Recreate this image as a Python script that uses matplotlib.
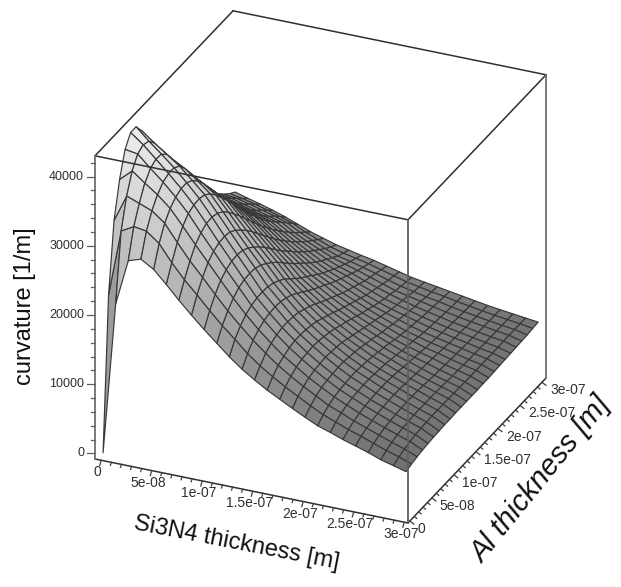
import numpy as np
import matplotlib
matplotlib.use("Agg")
import matplotlib.pyplot as plt
from matplotlib.colors import LinearSegmentedColormap
from matplotlib.lines import Line2D
from mpl_toolkits.mplot3d import proj3d

plt.rcParams['font.family'] = ['Liberation Sans', 'DejaVu Sans']

# grid values
si3n4_nm = [0, 12.5, 25, 37.5, 50, 62.5, 75, 87.5, 100, 112.5, 125, 137.5, 150, 162.5, 175,
            187.5, 200, 212.5, 225, 237.5, 250, 262.5, 275, 287.5, 300]
al_nm = list(si3n4_nm)
curvature = [
 [0,22000,31900,37000,40500,42100,42100,40700,38900,36900,35200,33500,31650,29900,28300,26900,25600,24200,23000,21800,20800,19900,19000,18250,17630],
 [21900,31600,35800,38600,40200,40700,40400,39300,37700,36000,34300,32700,31000,29400,27800,26400,25100,23800,22600,21500,20500,19600,18750,17900,17100],
 [28500,32600,35100,37200,38500,39000,38900,38000,36500,34900,33300,31700,30100,28600,27100,25700,24500,23300,22100,21000,20000,19100,18300,17450,16630],
 [29100,32300,34400,35900,36900,37300,37300,36700,35500,34000,32400,30900,29400,27900,26500,25100,23900,22700,21500,20500,19500,18600,17800,16950,16100],
 [28000,30900,33000,34300,35100,35500,35500,35000,34100,32900,31500,30100,28600,27200,25800,24500,23300,22100,21000,20000,19000,18100,17300,16400,15500],
 [26200,28500,30600,32100,33100,33500,33600,33300,32600,31600,30400,29200,27800,26400,25100,23800,22700,21500,20400,19400,18500,17600,16700,15800,14800],
 [24300,26400,28300,29800,30700,31200,31300,31000,30400,29500,28400,27300,26100,24900,23700,22500,21400,20300,19300,18300,17400,16500,15700,14900,14100],
 [22500,24600,26300,27600,28400,28800,28900,28700,28100,27300,26400,25400,24300,23200,22100,21000,20000,19000,18100,17200,16400,15600,14900,14200,13550],
 [20800,22700,24200,25400,26100,26500,26600,26400,25900,25200,24400,23500,22500,21500,20500,19600,18700,17800,17000,16200,15500,14800,14100,13500,13000],
 [19200,20900,22200,23200,23900,24200,24300,24200,23800,23200,22500,21700,20800,19900,19000,18200,17400,16600,15900,15200,14600,14000,13400,13000,12600],
 [17600,19300,20400,21200,21700,21950,22000,21900,21600,21100,20500,19700,18900,18150,17500,16800,16150,15500,14950,14400,13900,13450,13000,12600,12200],
 [16200,17600,18700,19400,19900,20100,20200,20100,19800,19400,18800,18200,17500,16900,16300,15800,15200,14700,14200,13800,13300,12900,12500,12200,11850],
 [15000,16200,17200,17800,18200,18400,18400,18300,18100,17700,17300,16800,16200,15700,15200,14700,14200,13800,13400,13000,12600,12300,12000,11700,11400],
 [13900,15000,15800,16300,16700,16900,16900,16800,16600,16300,15900,15500,15100,14600,14200,13800,13400,13000,12600,12300,12000,11700,11400,11200,10950],
 [12950,13900,14600,15100,15400,15500,15600,15500,15300,15100,14800,14400,14100,13700,13300,12900,12600,12200,11900,11600,11400,11100,10900,10700,10500],
 [12000,12900,13500,13900,14200,14300,14400,14300,14200,14000,13700,13400,13100,12800,12500,12200,11900,11600,11300,11100,10900,10700,10500,10350,10200],
 [11100,11900,12500,12900,13100,13200,13300,13300,13100,13000,12800,12500,12300,12000,11700,11500,11200,11000,10800,10600,10400,10300,10100,10000,9900],
 [10250,11000,11500,11900,12100,12200,12300,12300,12200,12100,11900,11700,11500,11300,11000,10800,10600,10400,10300,10100,10000,9900,9800,9700,9600],
 [9650,10300,10800,11100,11300,11400,11500,11500,11400,11300,11200,11000,10800,10600,10400,10300,10100,9900,9800,9700,9600,9500,9400,9350,9300],
 [9000,9600,10000,10300,10500,10600,10700,10700,10700,10600,10500,10300,10200,10000,9900,9700,9600,9500,9400,9300,9200,9150,9100,9050,9000],
 [8440,9000,9350,9600,9800,9900,10000,10000,10000,9900,9800,9700,9600,9500,9400,9300,9200,9100,9000,8950,8900,8850,8800,8750,8700],
 [7870,8350,8700,8950,9100,9200,9300,9300,9300,9300,9200,9100,9000,8950,8850,8800,8750,8700,8650,8600,8550,8550,8500,8480,8450],
 [7200,7700,8050,8300,8450,8550,8650,8650,8650,8650,8600,8550,8500,8450,8400,8350,8300,8300,8250,8250,8250,8250,8230,8230,8230],
 [6720,7150,7450,7700,7850,7950,8000,8050,8050,8050,8050,8000,8000,7950,7950,7950,7950,7950,7950,7950,8000,8000,8000,8000,8000],
 [6230,6500,6700,6850,6950,7050,7100,7150,7150,7200,7200,7200,7200,7200,7250,7250,7300,7350,7400,7450,7500,7550,7600,7700,7780],
]
h_ticks = [0, 5e-8, 1e-7, 1.5e-7, 2e-7, 2.5e-7, 3e-7]
h_labels = ['0', '5e-08', '1e-07', '1.5e-07', '2e-07', '2.5e-07', '3e-07']
z_ticks = [0, 10000, 20000, 30000, 40000]

XLIM = (-6.2e-9, 3.037e-7)
YLIM = (-4.1e-9, 3.094e-7)
ZLIM = (-800, 43000)
W, H = 621, 587

fig = plt.figure(figsize=(W / 100, H / 100), dpi=100, facecolor='white')
ax = fig.add_axes([0, 0, 1, 1], projection='3d', proj_type='ortho', computed_zorder=False)
ax.set_xlim(*XLIM); ax.set_ylim(*YLIM); ax.set_zlim(*ZLIM)
ax.set_box_aspect((1, 1, 1))
ax.view_init(elev=27.6, azim=-66.2)
ax.set_axis_off()
ax.patch.set_alpha(0)


def px(x, y, z):
    xs, ys, _ = proj3d.proj_transform(x, y, z, ax.get_proj())
    return ax.transData.transform((xs, ys))


# fit the axes so that the box lands where the reference has it
def fit():
    fig.canvas.draw()
    ax.apply_aspect()
    a = px(XLIM[0], YLIM[0], ZLIM[0]); b = px(XLIM[1], YLIM[0], ZLIM[0])
    s = np.hypot(313, 64) / np.hypot(*(b - a))
    pos = ax.get_position()
    side = pos.width * W * s
    target = np.array([95, H - 459])
    ax.set_position([pos.x0, pos.y0, side / W, side / H])
    fig.canvas.draw(); ax.apply_aspect()
    pos = ax.get_position()
    d = target - px(XLIM[0], YLIM[0], ZLIM[0])
    ax.set_position([pos.x0 + d[0] / W, pos.y0 + d[1] / H, pos.width, pos.height])
    fig.canvas.draw(); ax.apply_aspect()


fit()

X, Y = np.meshgrid(np.array(si3n4_nm) * 1e-9, np.array(al_nm) * 1e-9, indexing='ij')
Z = np.array(curvature, dtype=float)
cmap = LinearSegmentedColormap.from_list('g', ['#5a5a5a', '#f0f0f0'])
ax.plot_surface(X, Y, Z, rstride=1, cstride=1, cmap=cmap, vmin=0, vmax=43000,
                edgecolor='#383838', linewidth=0.85, antialiased=True, shade=False, zorder=1)

x0, x1 = XLIM; y0, y1 = YLIM; z0, z1 = ZLIM
edges = [((x0, y0, z1), (x1, y0, z1), '#303030', 1.1),
         ((x1, y0, z1), (x1, y1, z1), '#303030', 1.1),
         ((x1, y1, z1), (x0, y1, z1), '#303030', 1.1),
         ((x0, y1, z1), (x0, y0, z1), '#303030', 1.1),
         ((x0, y0, z0), (x1, y0, z0), '#303030', 1.1),
         ((x1, y0, z0), (x1, y1, z0), '#303030', 1.1),
         ((x0, y0, z0), (x0, y0, z1), '#707070', 1.3),
         ((x1, y0, z0), (x1, y0, z1), '#606060', 1.3),
         ((x1, y1, z0), (x1, y1, z1), '#707070', 1.3)]
for a, b, c, lw in edges:
    ax.plot([a[0], b[0]], [a[1], b[1]], [a[2], b[2]], color=c, lw=lw, zorder=5, clip_on=False)


def seg(p, dx, dy, c='#404040'):
    fig.add_artist(Line2D([p[0] / W, (p[0] + dx) / W], [p[1] / H, (p[1] + dy) / H],
                          transform=fig.transFigure, color=c, lw=0.9))


def label(p, dx, dy, s, **kw):
    fig.text((p[0] + dx) / W, (p[1] + dy) / H, s, **kw)


# z axis
for v in range(0, 43000, 2000):
    p = px(x0, y0, v)
    seg(p, -8 if v % 10000 == 0 else -4, 0, '#606060')
for v in z_ticks:
    label(px(x0, y0, v), -11, 0, str(v), ha='right', va='center', fontsize=9, color='#303030')

# horizontal axes
for i in range(0, 31):
    v = i * 1e-8
    major = i % 5 == 0
    p = px(v, y0, z0)
    seg(p, -1.5 if major else -1, -5 if major else -3)
    p = px(x1, v, z0)
    seg(p, 4 if major else 2.5, -3 if major else -2)
for v, s in zip(h_ticks, h_labels):
    label(px(v, y0, z0), -3.5, -12, s, ha='center', va='center', fontsize=10, color='#303030')
    label(px(x1, v, z0), 8, -8, s, ha='left', va='center', fontsize=10, color='#303030')

fig.text(237 / W, (H - 543) / H, 'Si3N4 thickness [m]', rotation=-11, rotation_mode='anchor',
         ha='center', va='center', fontsize=17, color='#101010')
fig.text(541 / W, (H - 480) / H, 'Al thickness [m]', rotation=51, rotation_mode='anchor',
         ha='center', va='center', fontsize=21, style='italic', color='#101010')
fig.text(25 / W, (H - 306) / H, 'curvature [1/m]', rotation=90, ha='center', va='center',
         fontsize=17, color='#101010')

fig.savefig('out.png', dpi=100, facecolor='white')
